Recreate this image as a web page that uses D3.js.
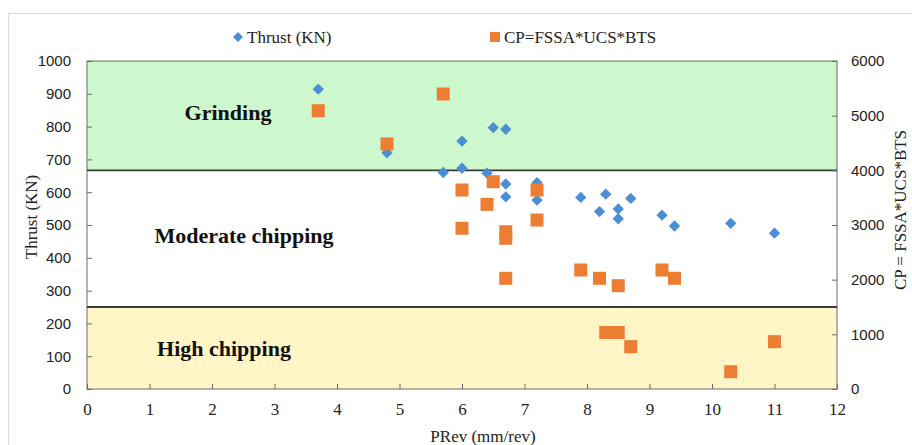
<!DOCTYPE html>
<html><head><meta charset="utf-8">
<script src="https://cdn.jsdelivr.net/npm/d3@7"></script>
<style>body{margin:0;background:#fff}svg{display:block}</style>
</head><body>
<svg id="c" width="912" height="445"></svg>
<script>
// ---- data ----
const thrustX = [3.7, 4.8, 5.7, 6.0, 6.0, 6.4, 6.5, 6.7, 6.7, 6.7, 7.2, 7.2, 7.9, 8.2, 8.3, 8.5, 8.5, 8.7, 9.2, 9.4, 10.3, 11.0];
const thrustY = [914, 720, 660, 756, 673, 658, 797, 792, 625, 586, 629, 576, 584, 541, 594, 549, 519, 581, 530, 497, 505, 475];
const cpX = [3.7, 4.8, 5.7, 6.0, 6.0, 6.4, 6.5, 6.7, 6.7, 6.7, 7.2, 7.2, 7.9, 8.2, 8.5, 9.2, 9.4, 8.3, 8.5, 8.7, 10.3, 11.0];
const cpY = [5091, 4482, 5396, 3640, 2940, 3378, 3792, 2877, 2757, 2025, 3640, 3091, 2177, 2025, 1890, 2177, 2025, 1033, 1033, 774, 317, 866];
const xTicks = [0,1,2,3,4,5,6,7,8,9,10,11,12];
const yTicks = [0,100,200,300,400,500,600,700,800,900,1000];
const y2Ticks = [0,1000,2000,3000,4000,5000,6000];
const bandNames = ["High chipping", "Moderate chipping", "Grinding"];
const bandLo = [0, 1500, 4000];
const bandHi = [1500, 4000, 6000];
const seriesNames = ["Thrust (KN)", "CP=FSSA*UCS*BTS"];

// ---- layout ----
const svg = d3.select("#c");
const L = 87, R = 837, T = 61, B = 389;
const x = d3.scaleLinear().domain([0, 12]).range([L, R]);
const y = d3.scaleLinear().domain([0, 1000]).range([B, T]);
const y2 = d3.scaleLinear().domain([0, 6000]).range([B, T]);
const blue = "#4A8ED6", orange = "#ED7D31";
const serif = "'Liberation Serif','Times New Roman',serif";
const sans = "'Liberation Sans',Arial,sans-serif";

// outer frame
svg.append("rect").attr("x", 8.5).attr("y", 13.5).attr("width", 920).attr("height", 440)
  .attr("fill", "none").attr("stroke", "#d9d9d9");

// bands
const bandFill = ["#FFF5C6", "#FFFFFF", "#CDF7CD"];
svg.append("g").selectAll("rect").data(bandLo).join("rect")
  .attr("x", L).attr("width", R - L)
  .attr("y", (d, i) => y2(bandHi[i])).attr("height", (d, i) => y2(d) - y2(bandHi[i]))
  .attr("fill", (d, i) => bandFill[i]);

// plot border
svg.append("rect").attr("x", L).attr("y", T).attr("width", R - L).attr("height", B - T)
  .attr("fill", "none").attr("stroke", "#6b6b6b").attr("stroke-width", 1);

// band boundary lines
svg.append("g").selectAll("line").data([1500, 4000]).join("line")
  .attr("x1", L).attr("x2", R).attr("y1", d => y2(d)).attr("y2", d => y2(d))
  .attr("stroke", "#3a3a3a").attr("stroke-width", 1.8);

// band labels
const bandLabelX = [224, 244, 228];
const bandLabelV = [700, 2770, 5010];
svg.append("g").selectAll("text").data(bandNames).join("text")
  .attr("x", (d, i) => bandLabelX[i]).attr("y", (d, i) => y2(bandLabelV[i]))
  .attr("text-anchor", "middle").attr("dominant-baseline", "middle")
  .style("font-family", serif).style("font-weight", "bold").style("font-size", "22px")
  .attr("fill", "#111").text(d => d);

// axes
function styleAxis(g) {
  g.select(".domain").remove();
  g.selectAll(".tick line").attr("stroke", "#6b6b6b");
  g.selectAll(".tick text").attr("fill", "#222");
}
const gx = svg.append("g").attr("transform", `translate(0,${B})`)
  .call(d3.axisBottom(x).tickValues(xTicks).tickFormat(d3.format("d")).tickSize(-5).tickPadding(14));
styleAxis(gx);
gx.selectAll(".tick text").style("font-family", serif).style("font-size", "17px");

const gy = svg.append("g").attr("transform", `translate(${L},0)`)
  .call(d3.axisLeft(y).tickValues(yTicks).tickFormat(d3.format("d")).tickSize(-5).tickPadding(16));
styleAxis(gy);
gy.selectAll(".tick text").style("font-family", sans).style("font-size", "15px");

const gy2 = svg.append("g").attr("transform", `translate(${R},0)`)
  .call(d3.axisRight(y2).tickValues(y2Ticks).tickFormat(d3.format("d")).tickSize(-5).tickPadding(14));
styleAxis(gy2);
gy2.selectAll(".tick text").style("font-family", sans).style("font-size", "15px");

// axis titles
svg.append("text").attr("x", 483).attr("y", 442).attr("text-anchor", "middle")
  .style("font-family", serif).style("font-size", "17px").attr("fill", "#222").text("PRev (mm/rev)");
svg.append("text").attr("transform", "translate(37,217) rotate(-90)").attr("text-anchor", "middle")
  .style("font-family", serif).style("font-size", "17px").attr("fill", "#222").text("Thrust (KN)");
svg.append("text").attr("transform", "translate(906,210) rotate(-90)").attr("text-anchor", "middle")
  .style("font-family", serif).style("font-size", "17px").attr("fill", "#222").text("CP = FSSA*UCS*BTS");

// points
const diamond = d3.symbol().type(d3.symbolSquare).size(64)();
const square = d3.symbol().type(d3.symbolSquare).size(169)();
svg.append("g").selectAll("path").data(thrustX).join("path")
  .attr("d", diamond)
  .attr("transform", (d, i) => `translate(${x(d)},${y(thrustY[i])}) rotate(45)`)
  .attr("fill", blue);
svg.append("g").selectAll("path").data(cpX).join("path")
  .attr("d", square)
  .attr("transform", (d, i) => `translate(${x(d)},${y2(cpY[i])})`)
  .attr("fill", orange);

// legend
const lg = svg.append("g");
lg.append("path").attr("d", d3.symbol().type(d3.symbolSquare).size(49)())
  .attr("transform", "translate(238,37) rotate(45)").attr("fill", blue);
lg.append("text").attr("x", 247).attr("y", 43).style("font-family", serif).style("font-size", "17px")
  .attr("fill", "#222").text(seriesNames[0]);
lg.append("path").attr("d", d3.symbol().type(d3.symbolSquare).size(100)())
  .attr("transform", "translate(495,37)").attr("fill", orange);
lg.append("text").attr("x", 504).attr("y", 43).style("font-family", serif).style("font-size", "17px")
  .attr("fill", "#222").text(seriesNames[1]);
</script>
</body></html>
